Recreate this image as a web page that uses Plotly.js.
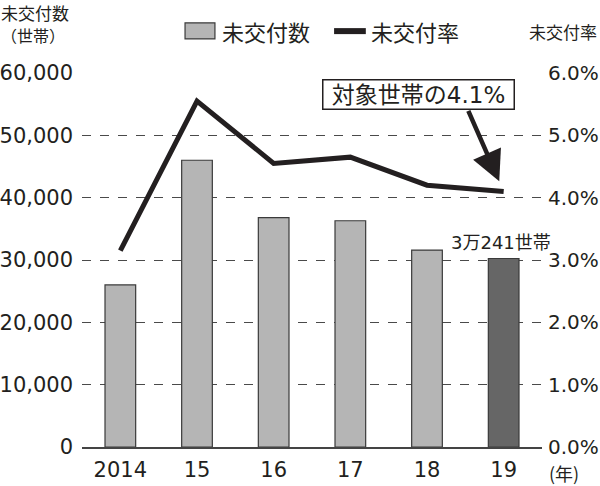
<!DOCTYPE html>
<html>
<head>
<meta charset="utf-8">
<script src="https://cdn.plot.ly/plotly-3.0.1.min.js"></script>
<style>body{margin:0;background:#fff}#chart{width:600px;height:486px}</style>
</head>
<body>
<div id="chart"></div>
<script>
// 未交付数 (bars) and 未交付率 (line), 2014-2019
var years = ['2014', '15', '16', '17', '18', '19'];
var counts = [26000, 46000, 36800, 36300, 31600, 30241];
var rates = [3.15, 5.55, 4.55, 4.65, 4.2, 4.1];

var font = '"DejaVu Sans", "Noto Sans CJK JP", sans-serif';
var cjk = '"Noto Sans CJK JP", sans-serif';
var ink = '#231f20';
var last = years.length - 1;

var barColors = years.map(function (y, i) {
  return i === last ? '#666666' : '#b5b5b5';
});

// hand-made legend so the swatches match the print version
var legendShapes = [
  { type: 'rect', xref: 'paper', yref: 'paper', x0: 0.224, x1: 0.289, y0: 1.091, y1: 1.134,
    fillcolor: '#b5b5b5', line: { color: '#3a3a3a', width: 1.2 } },
  { type: 'line', xref: 'paper', yref: 'paper', x0: 0.548, x1: 0.617, y0: 1.112, y1: 1.112,
    line: { color: ink, width: 6 } }
];

Plotly.newPlot('chart', [
  {
    x: years,
    y: counts,
    name: '未交付数',
    type: 'bar',
    marker: { color: barColors, line: { color: '#3a3a3a', width: 1.2 } },
    hoverinfo: 'skip'
  },
  {
    x: years,
    y: rates,
    name: '未交付率',
    type: 'scatter',
    mode: 'lines',
    yaxis: 'y2',
    line: { color: ink, width: 5 },
    hoverinfo: 'skip'
  }
], {
  width: 600,
  height: 486,
  margin: { l: 82, r: 58, t: 73, b: 39 },
  paper_bgcolor: '#fff',
  plot_bgcolor: '#fff',
  font: { family: font, color: ink, size: 20 },
  bargap: 0.6,
  showlegend: false,
  xaxis: {
    type: 'category',
    range: [-0.5, 5.5],
    showgrid: false,
    showline: true,
    linecolor: '#444',
    linewidth: 1.5,
    ticks: '',
    ticklabelstandoff: 3,
    tickfont: { size: 21 },
    fixedrange: true
  },
  yaxis: {
    range: [0, 60000],
    dtick: 10000,
    tickformat: ',d',
    showgrid: true,
    gridcolor: '#4a4a4a',
    griddash: 'dash',
    gridwidth: 1,
    zeroline: false,
    showline: false,
    ticks: '',
    ticklabelstandoff: 8,
    tickfont: { size: 21 },
    fixedrange: true
  },
  yaxis2: {
    overlaying: 'y',
    side: 'right',
    range: [0, 6],
    dtick: 1,
    tickformat: '.1f',
    ticksuffix: '%',
    showgrid: false,
    zeroline: false,
    showline: false,
    ticks: '',
    ticklabelstandoff: 5,
    tickfont: { size: 20 },
    fixedrange: true
  },
  shapes: legendShapes,
  annotations: [
    {
      xref: 'paper', yref: 'paper', x: 0.3, y: 1.112,
      xanchor: 'left', yanchor: 'middle',
      text: '未交付数', showarrow: false,
      font: { family: cjk, size: 22 }
    },
    {
      xref: 'paper', yref: 'paper', x: 0.624, y: 1.112,
      xanchor: 'left', yanchor: 'middle',
      text: '未交付率', showarrow: false,
      font: { family: cjk, size: 22 }
    },
    {
      xref: 'paper', yref: 'paper', x: -0.18, y: 1.163,
      xanchor: 'left', yanchor: 'middle',
      text: '未交付数', showarrow: false,
      font: { family: cjk, size: 17 }
    },
    {
      xref: 'paper', yref: 'paper', x: -0.107, y: 1.101,
      xanchor: 'center', yanchor: 'middle',
      text: '（世帯）', showarrow: false,
      font: { family: cjk, size: 16 }
    },
    {
      xref: 'paper', yref: 'paper', x: 1.124, y: 1.112,
      xanchor: 'right', yanchor: 'middle',
      text: '未交付率', showarrow: false,
      font: { family: cjk, size: 17 }
    },
    {
      xref: 'paper', yref: 'paper', x: 1.01, y: -0.07,
      xanchor: 'left', yanchor: 'middle',
      text: '(年)', showarrow: false,
      font: { family: cjk, size: 18 }
    },
    {
      x: last, y: counts[last], xref: 'x', yref: 'y',
      yanchor: 'bottom', yshift: 4, xshift: -3,
      text: '3万241世帯', showarrow: false,
      font: { size: 18 }
    },
    {
      x: last, y: rates[last], xref: 'x', yref: 'y2',
      ax: -36, ay: -82, text: '', showarrow: true,
      arrowhead: 2, arrowsize: 1.35, arrowwidth: 4.5, arrowcolor: ink,
      standoff: 11
    },
    {
      xref: 'paper', yref: 'paper', x: 0.731, y: 0.943,
      xanchor: 'center', yanchor: 'middle',
      text: ' 対象世帯の4.1% ', showarrow: false,
      font: { size: 23 },
      bgcolor: '#fff', bordercolor: ink, borderwidth: 1.5, borderpad: 1
    }
  ]
}, { displayModeBar: false, staticPlot: true });
</script>
</body>
</html>
